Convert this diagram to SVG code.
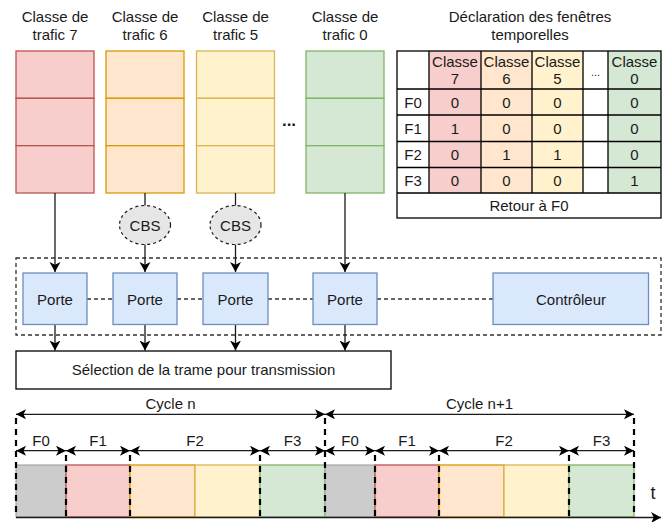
<svg xmlns="http://www.w3.org/2000/svg" width="664" height="522" viewBox="0 0 664 522">
<defs>
<style>
text{font-family:"Liberation Sans",Arial,sans-serif;font-size:15px;fill:#1a1a1a;text-anchor:middle}
.red{fill:#f8cecc;stroke:#b85450;stroke-width:1.3}
.org{fill:#ffe6cc;stroke:#d79b00;stroke-width:1.3}
.yel{fill:#fff2cc;stroke:#d6b656;stroke-width:1.3}
.grn{fill:#d5e8d4;stroke:#82b366;stroke-width:1.3}
.gry{fill:#cccccc;stroke:#999999;stroke-width:1}
.blue{fill:#dae8fc;stroke:#6c8ebf;stroke-width:1.3}
.cbs{fill:#e6e6e6;stroke:#1a1a1a;stroke-width:1.2;stroke-dasharray:3 3}
.tb{stroke:#000;stroke-width:1.3;fill:none}
.conn{stroke:#1a1a1a;stroke-width:1.3;fill:none}
.dash{stroke:#333;stroke-width:1.3;fill:none;stroke-dasharray:4 3}
.vd{stroke:#000;stroke-width:2.2;fill:none;stroke-dasharray:6 5}
.dim{stroke:#1a1a1a;stroke-width:1.3;fill:none;marker-start:url(#ah);marker-end:url(#ah)}
</style>
<marker id="arr" markerUnits="userSpaceOnUse" markerWidth="14" markerHeight="14" refX="10" refY="5.5" orient="auto">
<path d="M0,0 L10,5.5 L0,11 L2.8,5.5 z" fill="#000"/>
</marker>
<marker id="ah" markerUnits="userSpaceOnUse" markerWidth="14" markerHeight="14" refX="10" refY="5" orient="auto-start-reverse">
<path d="M0,0 L10,5 L0,10 L2.5,5 z" fill="#000"/>
</marker>
</defs>

<g id="queue7">
<text x="55" y="22">Classe de</text><text x="55" y="40">trafic 7</text>
<rect class="red" x="16" y="51" width="78" height="47.3"/>
<rect class="red" x="16" y="98.3" width="78" height="47.4"/>
<rect class="red" x="16" y="145.7" width="78" height="47.3"/>
</g>
<g id="queue6">
<text x="145" y="22">Classe de</text><text x="145" y="40">trafic 6</text>
<rect class="org" x="106" y="51" width="78" height="47.3"/>
<rect class="org" x="106" y="98.3" width="78" height="47.4"/>
<rect class="org" x="106" y="145.7" width="78" height="47.3"/>
</g>
<g id="queue5">
<text x="235.5" y="22">Classe de</text><text x="235.5" y="40">trafic 5</text>
<rect class="yel" x="196.5" y="51" width="78" height="47.3"/>
<rect class="yel" x="196.5" y="98.3" width="78" height="47.4"/>
<rect class="yel" x="196.5" y="145.7" width="78" height="47.3"/>
</g>
<g id="dots"><text x="289" y="126" style="font-weight:bold;font-size:17px">...</text></g>
<g id="queue0">
<text x="345" y="22">Classe de</text><text x="345" y="40">trafic 0</text>
<rect class="grn" x="306" y="51" width="78" height="47.3"/>
<rect class="grn" x="306" y="98.3" width="78" height="47.4"/>
<rect class="grn" x="306" y="145.7" width="78" height="47.3"/>
</g>

<g id="table">
<text x="530" y="22">Déclaration des fenêtres</text>
<text x="530" y="40">temporelles</text>
<rect x="429" y="51" width="52" height="142" fill="#f8cecc"/>
<rect x="481" y="51" width="51" height="142" fill="#ffe6cc"/>
<rect x="532" y="51" width="51" height="142" fill="#fff2cc"/>
<rect x="608" y="51" width="53" height="142" fill="#d5e8d4"/>
<rect class="tb" x="397" y="51" width="264" height="167"/>
<path class="tb" d="M397,89H661M397,115H661M397,141.5H661M397,167.5H661M397,193H661M429,51V193M481,51V193M532,51V193M583,51V193M608,51V193"/>
<g style="font-size:14px">
<text x="455" y="67">Classe</text><text x="455" y="84">7</text>
<text x="506.5" y="67">Classe</text><text x="506.5" y="84">6</text>
<text x="557.5" y="67">Classe</text><text x="557.5" y="84">5</text>
<text x="634.5" y="67">Classe</text><text x="634.5" y="84">0</text>
</g>
<text x="595.5" y="76" style="font-size:11px">...</text>
<text x="413" y="107.5">F0</text><text x="455" y="107.5">0</text><text x="506.5" y="107.5">0</text><text x="557.5" y="107.5">0</text><text x="634.5" y="107.5">0</text>
<text x="413" y="133.5">F1</text><text x="455" y="133.5">1</text><text x="506.5" y="133.5">0</text><text x="557.5" y="133.5">0</text><text x="634.5" y="133.5">0</text>
<text x="413" y="160">F2</text><text x="455" y="160">0</text><text x="506.5" y="160">1</text><text x="557.5" y="160">1</text><text x="634.5" y="160">0</text>
<text x="413" y="185.5">F3</text><text x="455" y="185.5">0</text><text x="506.5" y="185.5">0</text><text x="557.5" y="185.5">0</text><text x="634.5" y="185.5">1</text>
<text x="529" y="211">Retour à F0</text>
</g>

<g id="cbs6"><ellipse class="cbs" cx="145" cy="225" rx="25.5" ry="19.5"/><text x="145" y="230.5">CBS</text></g>
<g id="cbs5"><ellipse class="cbs" cx="235.5" cy="225" rx="25.5" ry="19.5"/><text x="235.5" y="230.5">CBS</text></g>

<g id="container"><rect class="dash" x="16" y="258" width="645" height="77"/></g>

<g id="connectors">
<path class="dash" d="M87,299H113M177,299H203M268,299H313M377,299H493"/>
<path class="conn" d="M55,193V272" marker-end="url(#arr)"/>
<path class="conn" d="M145,193V205.5"/>
<path class="conn" d="M145,244.5V272" marker-end="url(#arr)"/>
<path class="conn" d="M235.5,193V205.5"/>
<path class="conn" d="M235.5,244.5V272" marker-end="url(#arr)"/>
<path class="conn" d="M345,193V272" marker-end="url(#arr)"/>
<path class="conn" d="M55,324.5V350.5" marker-end="url(#arr)"/>
<path class="conn" d="M145,324.5V350.5" marker-end="url(#arr)"/>
<path class="conn" d="M235.5,324.5V350.5" marker-end="url(#arr)"/>
<path class="conn" d="M345,324.5V350.5" marker-end="url(#arr)"/>
</g>

<g id="gate7"><rect class="blue" x="23" y="273" width="64" height="51.5"/><text x="55" y="304.5">Porte</text></g>
<g id="gate6"><rect class="blue" x="113" y="273" width="64" height="51.5"/><text x="145" y="304.5">Porte</text></g>
<g id="gate5"><rect class="blue" x="203" y="273" width="65" height="51.5"/><text x="235.5" y="304.5">Porte</text></g>
<g id="gate0"><rect class="blue" x="313" y="273" width="64" height="51.5"/><text x="345" y="304.5">Porte</text></g>
<g id="controller"><rect class="blue" x="493" y="273" width="155.5" height="51.5"/><text x="571" y="304.5">Contrôleur</text></g>

<g id="selection"><rect x="16" y="351" width="375" height="38" fill="#fff" stroke="#000" stroke-width="1.3"/><text x="203.5" y="375">Sélection de la trame pour transmission</text></g>

<g id="timeline">
<rect class="gry" x="16" y="465" width="50" height="52"/>
<rect class="red" x="66" y="465" width="64" height="52"/>
<rect class="org" x="130" y="465" width="65" height="52"/>
<rect class="yel" x="195" y="465" width="65" height="52"/>
<rect class="grn" x="260" y="465" width="65" height="52"/>
<rect class="gry" x="325" y="465" width="50" height="52"/>
<rect class="red" x="375" y="465" width="64" height="52"/>
<rect class="org" x="439" y="465" width="65" height="52"/>
<rect class="yel" x="504" y="465" width="65" height="52"/>
<rect class="grn" x="569" y="465" width="65" height="52"/>
<path class="vd" d="M16,418V517M325,418V517M634,418V517M66,455V517M130,455V517M260,455V517M375,455V517M439,455V517M569,455V517"/>
<path class="conn" d="M16,517.5H661" marker-end="url(#arr)"/>
<path class="dim" d="M16,414.3H325"/>
<path class="dim" d="M325,414.3H634"/>
<path class="dim" d="M16,450.7H66"/>
<path class="dim" d="M66,450.7H130"/>
<path class="dim" d="M130,450.7H260"/>
<path class="dim" d="M260,450.7H325"/>
<path class="dim" d="M325,450.7H375"/>
<path class="dim" d="M375,450.7H439"/>
<path class="dim" d="M439,450.7H569"/>
<path class="dim" d="M569,450.7H634"/>
<text x="170.5" y="408.5">Cycle n</text>
<text x="479.5" y="408.5">Cycle n+1</text>
<text x="41" y="446">F0</text><text x="98" y="446">F1</text><text x="195" y="446">F2</text><text x="292.5" y="446">F3</text>
<text x="350" y="446">F0</text><text x="407" y="446">F1</text><text x="504" y="446">F2</text><text x="601.5" y="446">F3</text>
<text x="653" y="499" style="font-size:18px">t</text>
</g>
</svg>
